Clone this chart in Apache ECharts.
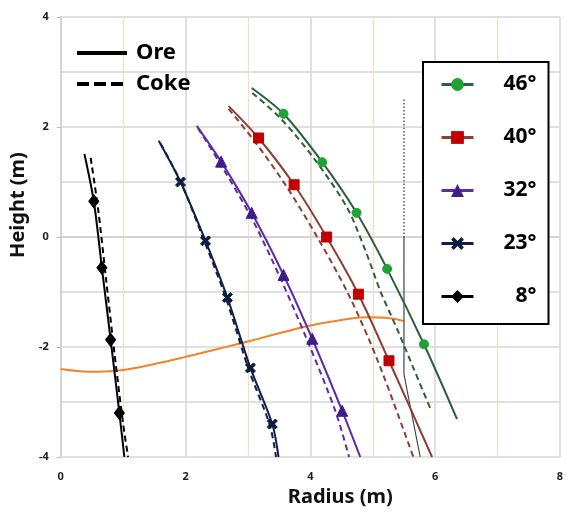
<!DOCTYPE html>
<html>
<head>
<meta charset="utf-8">
<script src="https://cdn.jsdelivr.net/npm/echarts@6/dist/echarts.min.js"></script>
<style>
  html, body { margin: 0; padding: 0; background: #fff; }
  #chart { width: 567px; height: 516px; }
</style>
</head>
<body>
<div id="chart"></div>
<script>
// curves: [radius, height]; first and last point carry no marker
const ore46 = [[3.06, 2.71], [3.57, 2.24], [4.19, 1.36], [4.74, 0.44], [5.23, -0.58], [5.82, -1.95], [6.35, -3.31]];
const coke46 = [[3.07, 2.62], [3.52, 2.16], [4.05, 1.44], [4.59, 0.53], [4.90, -0.30], [5.12, -0.98], [5.40, -1.70], [5.65, -2.38], [5.92, -3.11]];
const ore40 = [[2.69, 2.38], [3.17, 1.80], [3.74, 0.95], [4.26, 0.00], [4.77, -1.04], [5.26, -2.25], [5.95, -4.00]];
const coke40 = [[2.69, 2.33], [3.10, 1.75], [3.60, 0.95], [4.11, 0.00], [4.61, -1.04], [5.08, -2.25], [5.65, -4.00]];
const ore32 = [[2.18, 2.02], [2.57, 1.37], [3.06, 0.44], [3.57, -0.69], [4.03, -1.85], [4.51, -3.16], [4.80, -4.00]];
const coke32 = [[2.20, 1.98], [2.60, 1.25], [3.08, 0.30], [3.52, -0.75], [3.94, -1.85], [4.40, -3.16], [4.62, -4.00]];
const ore23 = [[1.57, 1.75], [1.92, 1.00], [2.32, -0.07], [2.67, -1.10], [3.04, -2.38], [3.39, -3.40], [3.49, -4.00]];
const coke23 = [[1.60, 1.70], [1.93, 0.98], [2.31, -0.10], [2.65, -1.12], [3.01, -2.40], [3.35, -3.42], [3.45, -4.00]];
const ore8 = [[0.38, 1.51], [0.53, 0.65], [0.66, -0.56], [0.80, -1.87], [0.94, -3.20], [1.02, -4.00]];
const coke8 = [[0.48, 1.44], [0.60, 0.50], [0.73, -0.80], [0.86, -2.10], [1.00, -3.40], [1.08, -4.00]];
const profile = [[0, -2.40], [0.3, -2.44], [0.6, -2.45], [1.0, -2.42], [1.5, -2.31], [2.0, -2.18], [2.5, -2.04], [3.0, -1.90], [3.5, -1.75], [4.0, -1.61], [4.5, -1.51], [4.9, -1.46], [5.2, -1.47], [5.5, -1.53]];
const wallDotted = [[5.5, 2.5], [5.5, 0]];
const wallSolid = [[5.5, 0], [5.5, -2.5], [5.76, -4]];

const angleNames = ['46°', '40°', '32°', '23°', '8°'];
const xTicks = { min: 0, max: 8, step: 2 };
const yTicks = { min: -4, max: 4, step: 2 };

const FONT = 'Noto Sans';
const crossPath = 'path://M0,2 L2,0 L5,3 L8,0 L10,2 L7,5 L10,8 L8,10 L5,7 L2,10 L0,8 L3,5 Z';

const groups = [
  { name: angleNames[0], ore: ore46, coke: coke46, line: '#2e5f3b', mark: '#1fa335', symbol: 'circle', size: 9 },
  { name: angleNames[1], ore: ore40, coke: coke40, line: '#8d3d31', mark: '#c00000', symbol: 'rect', size: 10 },
  { name: angleNames[2], ore: ore32, coke: coke32, line: '#5b2ca3', mark: '#3f1b8c', symbol: 'triangle', size: 11 },
  { name: angleNames[3], ore: ore23, coke: coke23, line: '#10204a', mark: '#0d1b40', symbol: crossPath, size: 10 },
  { name: angleNames[4], ore: ore8, coke: coke8, line: '#000000', mark: '#000000', symbol: 'diamond', size: [10, 13] }
];

function withEnds(pts) {
  // hide the marker on both end points
  return pts.map((p, i) => (i === 0 || i === pts.length - 1) ? { value: p, symbol: 'none' } : p);
}

const series = [
  {
    type: 'line', data: profile, smooth: 0.4, symbol: 'none',
    lineStyle: { color: '#f28229', width: 2 }, silent: true
  },
  {
    type: 'line', data: wallDotted, symbol: 'none',
    lineStyle: { color: '#555', width: 1.5, type: [1.5, 2] }, silent: true
  },
  {
    type: 'line', data: wallSolid, symbol: 'none',
    lineStyle: { color: '#444', width: 1.2 }, silent: true
  },
  { type: 'line', name: 'Ore', data: [], symbol: 'none', lineStyle: { color: '#000', width: 4 } },
  { type: 'line', name: 'Coke', data: [], symbol: 'none', lineStyle: { color: '#000', width: 4, type: [12, 5] } }
];

groups.forEach(g => {
  series.push({
    type: 'line', name: g.name + ' coke', data: g.coke, smooth: 0.3, symbol: 'none',
    lineStyle: { color: g.line, width: 2, type: [6, 4] }
  });
  series.push({
    type: 'line', name: g.name, data: withEnds(g.ore), smooth: 0.3,
    symbol: g.symbol, symbolSize: g.size, showAllSymbol: true,
    itemStyle: { color: g.mark, borderColor: g.mark },
    lineStyle: { color: g.line, width: 2 }
  });
});

const chart = echarts.init(document.getElementById('chart'), null, { renderer: 'canvas' });

chart.setOption({
  animation: false,
  backgroundColor: '#fff',
  grid: { left: 60, right: 7, top: 17, bottom: 59 },
  legend: [
    {
      data: [
        { name: 'Ore', itemStyle: { opacity: 0 }, lineStyle: { width: 4, type: 'solid' } },
        { name: 'Coke', itemStyle: { opacity: 0 }, lineStyle: { width: 4, type: [12, 5] } }
      ],
      orient: 'vertical', left: 70, top: 35,
      itemWidth: 50, itemHeight: 14, itemGap: 5,
      selectedMode: false,
      textStyle: { fontFamily: FONT, fontSize: 22, fontWeight: 'bold', color: '#000', lineHeight: 26, padding: [0, 0, 0, 4] }
    },
    {
      data: angleNames,
      orient: 'vertical', left: 423, top: 62,
      itemWidth: 32, itemHeight: 16, itemGap: 32,
      padding: [12, 12, 17, 17],
      borderColor: '#000', borderWidth: 2, backgroundColor: '#fff',
      selectedMode: false,
      lineStyle: { width: 3 },
      formatter: n => '{a|' + n + '}',
      textStyle: {
        fontFamily: FONT, fontSize: 21, fontWeight: 'bold', color: '#000',
        rich: { a: { width: 58, align: 'right', fontFamily: FONT, fontSize: 21, fontWeight: 'bold', color: '#000' } }
      }
    }
  ],
  xAxis: {
    type: 'value', min: xTicks.min, max: xTicks.max, interval: xTicks.step,
    name: 'Radius (m)', nameLocation: 'middle', nameGap: 28,
    nameTextStyle: { fontFamily: FONT, fontSize: 20, fontWeight: 'bold', color: '#111', padding: [0, 0, 0, 60] },
    axisLine: { show: true, lineStyle: { color: '#d0d0d0', width: 1.5 } },
    axisTick: { show: false },
    axisLabel: { fontFamily: FONT, fontSize: 11, fontWeight: 'bold', color: '#222', margin: 14 },
    splitLine: { show: true, lineStyle: { color: '#d6d6d6', width: 1.5 } },
    minorTick: { show: false, splitNumber: 2 },
    minorSplitLine: { show: true, lineStyle: { color: '#fbd9bf', width: 1 } }
  },
  yAxis: {
    type: 'value', min: yTicks.min, max: yTicks.max, interval: yTicks.step,
    name: 'Height (m)', nameLocation: 'middle', nameGap: 30,
    nameTextStyle: { fontFamily: FONT, fontSize: 20, fontWeight: 'bold', color: '#111', padding: [0, 0, 0, 64] },
    axisLine: { show: true, lineStyle: { color: '#d0d0d0', width: 1.5 } },
    axisTick: { show: true, length: 4, lineStyle: { color: '#bbb' } },
    axisLabel: { fontFamily: FONT, fontSize: 11, fontWeight: 'bold', color: '#222', margin: 12 },
    splitLine: { show: true, lineStyle: { color: '#d6d6d6', width: 1.5 } },
    minorTick: { show: false, splitNumber: 2 },
    minorSplitLine: { show: true, lineStyle: { color: '#d6d6d6', width: 1.5 } }
  },
  series: series
});
</script>
</body>
</html>
